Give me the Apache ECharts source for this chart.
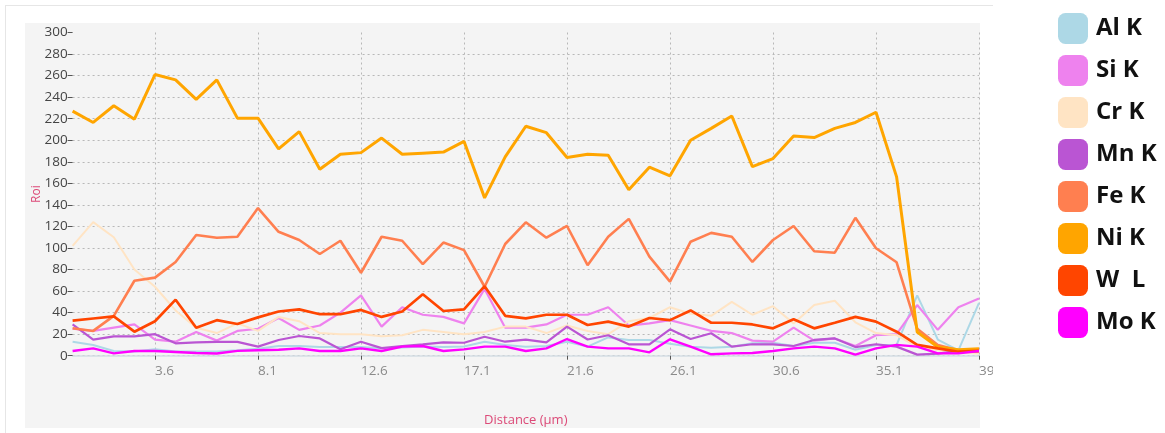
<!DOCTYPE html>
<html>
<head>
<meta charset="utf-8">
<script src="https://cdn.jsdelivr.net/npm/echarts@6/dist/echarts.min.js"></script>
<style>
  html, body { margin: 0; padding: 0; background: #ffffff; }
  #chart { width: 1165px; height: 433px; }
</style>
</head>
<body>
<div id="chart"></div>
<script>
// Distance along the line scan (µm)
const distance = [
  '0.0','0.9','1.8','2.7','3.6','4.5','5.4','6.3','7.2','8.1',
  '9.0','9.9','10.8','11.7','12.6','13.5','14.4','15.3','16.2','17.1',
  '18.0','18.9','19.8','20.7','21.6','22.5','23.4','24.3','25.2','26.1',
  '27.0','27.9','28.8','29.7','30.6','31.5','32.4','33.3','34.2','35.1',
  '36.0','36.9','37.8','38.7','39.6'
];

// Counts per element line
const alK = [13,10,4.4,4,6,4,4,4,5,6.5, 9,9,8,8,8,7,7.5,8.5,8,8.5, 13,10,8.4,9,13,8.4,17,14.6,14.6,11, 8.4,7.4,8.4,11.5,12,9,12,12,5.5,10, 10,56,15,5,49];
const siK = [25,23,26,29,15,13,22,14,23,25, 35,24,28,40,56,27,45,38,36,30, 62,26,26,29,38,38,45,28,30,33, 28,23,21,14,13,26,14,16,9,19, 20,47,24,45,53];
const crK = [102,124,110,80,64,42,26,21,30,23, 36,32,21,20,20,18,19,24,22,20, 22,27,27,21,28,23,20,32,35,45, 39,37,50,38,46,30,47,51,31,21, 19,8,5,3,2];
const mnK = [29,15,18,18,20,11.5,12.4,12.8,12.8,8.4, 14.6,18.3,16,6,13,7,9,10.6,12.4,12, 17.6,13,15,12.4,27,15,19,10.6,10.6,24.5, 15.5,20.8,8.4,10.6,10.6,9,14.6,16,8,10.6, 8.4,1,2,4.4,5];
const feK = [25.5,23,37,69.6,72.5,87,112,109.5,110.4,137, 115,107.4,94.4,106.7,77,110.4,106.7,85,105,98, 64,103.7,123.8,109.5,120.4,84,110.4,127,92,68.7, 105.8,114,110.4,87,107.4,120.4,97,95.6,128,99.7, 86.7,25,10,5,4];
const niK = [227,216.5,232,219.5,261,256,238,256,220.5,220.5, 192,208,173,187,188.5,202,187,188,189,199, 146.5,184.5,213,207,184,187,186,154,175,167, 200,211,222.5,175.5,183,204,202.5,211,216.5,226, 166,22,8,5.5,6.5];
const wL  = [32.5,34.5,36.5,22.3,32,52,26,33,29.4,35.6, 41,43,38.5,38.5,42.5,36,41,57,41.5,43, 64.5,37,34.7,38,38,28.5,31.6,27,35,33, 42,30.6,30.6,29,25.4,33.8,25.4,30.6,36,31.6, 22.3,10,6.8,3.7,4.4];
const moK = [4.4,6.8,2.2,4.4,4.4,3.5,2.5,2,4.5,5, 5.5,6.8,4.4,4.4,6.8,4.4,8.4,9,4.4,5.9, 8.4,8.4,4.4,6.8,15.5,8.4,6.8,6.8,3.1,15.2, 8.4,1.3,2.2,2.5,4.4,6.8,8.4,6.8,1,6.8, 10,8.4,2.2,2.2,4.4];

const seriesDefs = [
  { name: 'Al K', data: alK, color: '#add8e6', width: 2 },
  { name: 'Si K', data: siK, color: '#ee82ee', width: 2.2 },
  { name: 'Cr K', data: crK, color: '#ffe4c4', width: 2 },
  { name: 'Mn K', data: mnK, color: '#ba55d3', width: 2.2 },
  { name: 'Fe K', data: feK, color: '#ff7f50', width: 2.6 },
  { name: 'Ni K', data: niK, color: '#ffa500', width: 3 },
  { name: 'W  L', data: wL,  color: '#ff4500', width: 2.7 },
  { name: 'Mo K', data: moK, color: '#ff00ff', width: 2.4 }
];

const tickEvery = (idx) => idx % 5 === 4;
const font = '"Open Sans", "Noto Sans", sans-serif';
const axisNameColor = '#dc4a78';

const chart = echarts.init(document.getElementById('chart'), null, { renderer: 'canvas' });

chart.setOption({
  animation: false,
  backgroundColor: '#ffffff',
  textStyle: { fontFamily: font },
  graphic: [
    // card outline
    { type: 'line', z: -10, shape: { x1: 5, y1: 5.5, x2: 993, y2: 5.5 }, style: { stroke: '#e6e6e6', lineWidth: 1 } },
    { type: 'line', z: -10, shape: { x1: 5.5, y1: 5, x2: 5.5, y2: 433 }, style: { stroke: '#e6e6e6', lineWidth: 1 } },
    // plot panel
    { type: 'rect', z: -9, shape: { x: 25, y: 23, width: 955, height: 405 }, style: { fill: '#f4f4f4' } },
    // card edge cutting the last axis label
    { type: 'rect', z: 100, shape: { x: 993, y: 358, width: 50, height: 30 }, style: { fill: '#ffffff' } }
  ],
  legend: {
    orient: 'vertical',
    left: 1053,
    top: 8,
    itemWidth: 30,
    itemHeight: 31,
    itemGap: 11,
    icon: 'roundRect',
    itemStyle: { borderWidth: 0 },
    textStyle: { fontFamily: font, fontSize: 24, fontWeight: 'bold', color: '#111111', padding: [0, 0, 0, 3] },
    data: seriesDefs.map(s => s.name)
  },
  grid: { left: 72.6, right: 186, top: 32.5, bottom: 77.3, containLabel: false },
  xAxis: {
    type: 'category',
    data: distance,
    boundaryGap: false,
    name: 'Distance (µm)',
    nameLocation: 'middle',
    nameGap: 58,
    nameMoveOverlap: false,
    nameTextStyle: { color: axisNameColor, fontSize: 13, fontFamily: font },
    axisLine: { show: true, lineStyle: { color: '#d3dde3', width: 1.5 } },
    axisTick: { show: true, interval: tickEvery, length: 4, lineStyle: { color: '#555555' } },
    axisLabel: { interval: tickEvery, color: '#8a8a8a', fontSize: 13.5, fontFamily: font, align: 'left', margin: 8 },
    splitLine: { show: true, interval: tickEvery, lineStyle: { color: '#b8b8b8', type: [2, 3], width: 1 } }
  },
  yAxis: {
    type: 'value',
    min: 0,
    max: 300,
    interval: 20,
    name: 'Roi',
    nameLocation: 'middle',
    nameGap: 30,
    nameMoveOverlap: false,
    nameTextStyle: { color: axisNameColor, fontSize: 12, fontFamily: font },
    axisLine: { show: false },
    axisTick: { show: true, length: 5, lineStyle: { color: '#555555' } },
    axisLabel: { color: '#444444', fontSize: 13.5, fontFamily: font, margin: 5 },
    splitLine: { show: true, showMaxLine: false, lineStyle: { color: '#b8b8b8', type: [2, 3], width: 1 } }
  },
  series: seriesDefs.map(s => ({
    name: s.name,
    type: 'line',
    data: s.data,
    showSymbol: false,
    symbol: 'none',
    color: s.color,
    itemStyle: { color: s.color },
    lineStyle: { color: s.color, width: s.width },
    emphasis: { disabled: true }
  }))
});
</script>
</body>
</html>
